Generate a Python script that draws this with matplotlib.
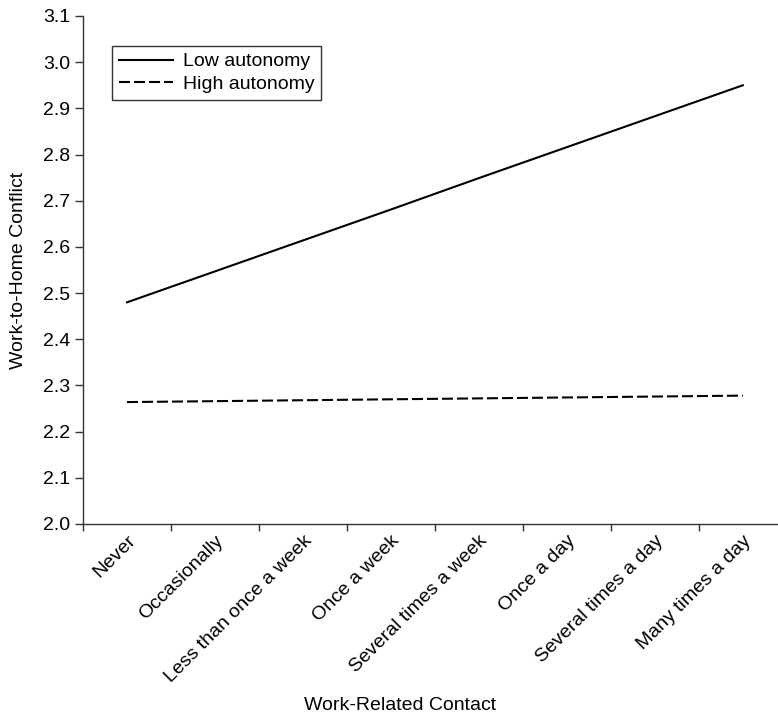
import matplotlib.pyplot as plt
import numpy as np

plt.rcParams['font.family'] = ['Liberation Sans', 'DejaVu Sans']

# categories on the x axis
categories = ["Never", "Occasionally", "Less than once a week", "Once a week",
              "Several times a week", "Once a day", "Several times a day",
              "Many times a day"]

# values
low_autonomy = [2.48, 2.547, 2.614, 2.681, 2.749, 2.816, 2.883, 2.95]
high_autonomy = [2.264, 2.266, 2.268, 2.270, 2.272, 2.274, 2.276, 2.278]

yticks = [2.0, 2.1, 2.2, 2.3, 2.4, 2.5, 2.6, 2.7, 2.8, 2.9, 3.0, 3.1]

fig = plt.figure(figsize=(7.78, 7.17), dpi=100)
ax = fig.add_axes([83 / 778, 193 / 717, 695 / 778, 508 / 717])

x = np.arange(len(categories))
ax.plot(x, low_autonomy, color="black", linewidth=1.5, label="Low autonomy")
ax.plot(x, high_autonomy, color="black", linewidth=1.5, dashes=(5.3, 1.9),
        label="High autonomy")

ax.set_xlim(-0.5, 7.4)
ax.set_ylim(2.0, 3.1)
ax.set_yticks(yticks)
ax.set_yticklabels([f"{v:.1f}" for v in yticks])

# ticks sit between categories, labels at centres
ax.set_xticks(np.arange(-0.5, 7.5, 1.0))
ax.set_xticklabels([])
ax.set_xticks(x, minor=True)
ax.set_xticklabels(categories, minor=True, rotation=45, ha="right",
                   rotation_mode="anchor", fontsize=14)
ax.tick_params(axis="x", which="minor", length=0, pad=6)
ax.tick_params(axis="x", which="major", length=5, width=1, color="#333333")
ax.tick_params(axis="y", length=6, width=1, color="#333333", labelsize=14, pad=3)

for side in ["top", "right"]:
    ax.spines[side].set_visible(False)
for side in ["left", "bottom"]:
    ax.spines[side].set_color("#333333")
    ax.spines[side].set_linewidth(1)

ax.set_ylabel("Work-to-Home Conflict", fontsize=14, labelpad=12)
ax.set_xlabel("Work-Related Contact", fontsize=14, va="center")
ax.xaxis.set_label_coords((400 - 83) / 695, -(706 - 524) / 508)

leg = ax.legend(loc="upper left", bbox_to_anchor=(29 / 695, 1 - 30 / 508),
                fontsize=14, frameon=True, fancybox=False, edgecolor="black",
                handlelength=2.8, borderpad=0.35, labelspacing=0.25,
                handletextpad=0.5, borderaxespad=0)
leg.get_frame().set_linewidth(1)

fig.savefig("out.png", dpi=100)
